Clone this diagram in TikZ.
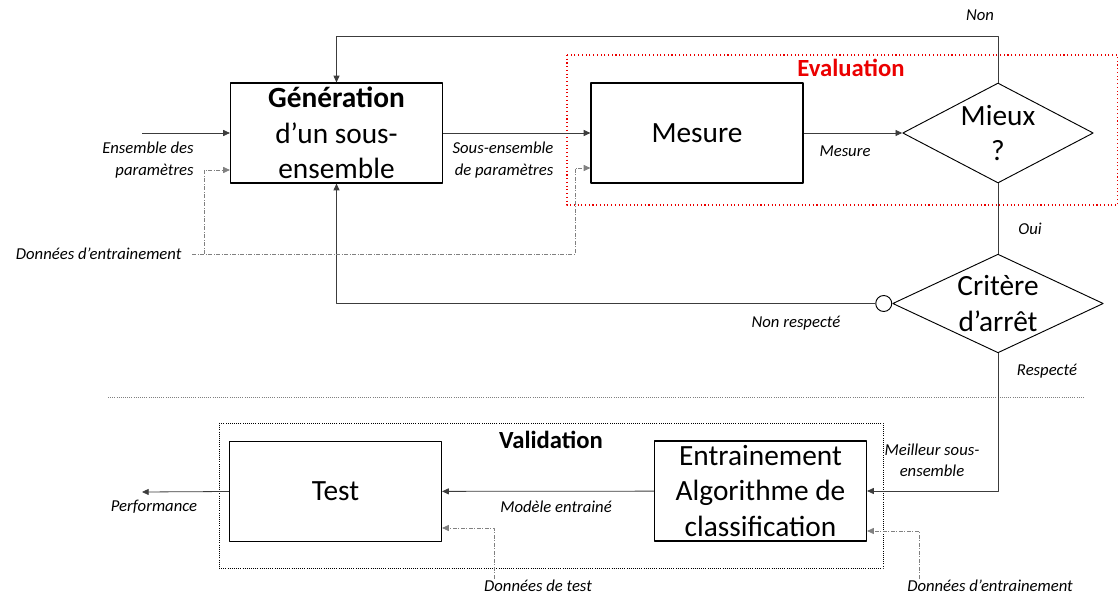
\documentclass[tikz,border=0pt]{standalone}
\usepackage{fontspec}
\setmainfont{Carlito}
\usetikzlibrary{shapes.geometric,arrows.meta,positioning}
\definecolor{lnk}{RGB}{60,60,60}
\definecolor{evalred}{RGB}{235,0,0}
\tikzset{
  bloc/.style={draw,line width=0.9pt,minimum width=159pt,minimum height=75pt,inner sep=0pt,align=center,font=\fontsize{22}{26.5}\selectfont},
  choix/.style={draw,line width=0.7pt,diamond,inner sep=0pt,align=center,font=\fontsize{22}{26.5}\selectfont},
  lbl/.style={font=\fontsize{12.5}{16}\selectfont\itshape,inner sep=1pt},
  lien/.style={lnk,line width=0.6pt},
  dd/.style={gray,line width=0.6pt,dash pattern=on 3pt off 1.2pt on 0.6pt off 1.2pt},
}
\begin{document}
\begin{tikzpicture}[x=0.75pt,y=-0.75pt,>={Triangle[length=5pt,width=4.5pt]},line join=round]
\useasboundingbox (0,0) rectangle (1118,599);
\node[bloc] (gen) at (336.5,133) {\textbf{Génération}\\d’un sous-\\ensemble};
\node[bloc] (mes) at (697,133) {Mesure};
\node[choix,aspect=1.9,minimum width=143pt,minimum height=75pt] (mieux) at (998,133) {Mieux\\?};
\node[choix,aspect=2.13,minimum width=158pt,minimum height=74pt] (crit) at (998,303.5) {Critère\\d’arrêt};
\node[circle,draw,line width=0.7pt,minimum size=12pt,inner sep=0pt,left=0pt of crit.west] (nr) {};
\node[bloc] (test) at (335.5,491.5) {Test};
\node[bloc] (ent) at (760.5,491) {Entrainement\\Algorithme de\\classification};

\draw[evalred,dotted,line width=0.8pt] (567,55) rectangle (1117.5,205);
\node[font=\fontsize{18.5}{20}\selectfont\bfseries,text=evalred] (teval) at (851,68) {Evaluation};
\draw[black,densely dotted,line width=0.6pt] (219,423) rectangle (883,568);
\node[font=\fontsize{18.5}{20}\selectfont\bfseries] (tval) at (551,440) {Validation};
\draw[gray,densely dotted,line width=0.6pt] (108,397) -- (1083,397);

\node[lbl] (lnon) at (980,15) {Non};
\node[lbl,align=right] (lens) at (148,160) {Ensemble des\\paramètres};
\node[lbl,align=right] (lsous) at (503,160) {Sous-ensemble\\de paramètres};
\node[lbl] (lmes) at (845,151) {Mesure};
\node[lbl,anchor=east] (ldtr) at (183,254) {Données d’entrainement};
\node[lbl] (loui) at (1030,229) {Oui};
\node[lbl] (lnr) at (796,323) {Non respecté};
\node[lbl] (lresp) at (1047,371) {Respecté};
\node[lbl,align=center] (lmeil) at (932,460) {Meilleur sous-\\ensemble};
\node[lbl] (lmod) at (556,507) {Modèle entrainé};
\node[lbl] (lperf) at (154,507) {Performance};
\node[lbl] (ldte) at (538,586) {Données de test};
\node[lbl] (ldtr2) at (990,586) {Données d’entrainement};

\coordinate (ens) at (142,133);
\coordinate (haut) at (998,36);
\coordinate (perf) at (142,492);
\coordinate (dg) at (204,170);
\coordinate (dm) at (575,168);
\coordinate (dt) at (494,528);
\coordinate (de) at (919,531);

\draw[lien,->] (ens) -- (gen.west);
\draw[lien,->] (gen) -- (mes);
\draw[lien,->] (mes) -- (mieux);
\draw[lien,->] (mieux.north) -- (haut) -| (gen.north);
\draw[lien] (mieux.south) -- (crit.north);
\draw[lien,->] (nr.west) -| (gen.south);
\draw[lien,->] (crit.south) |- (ent.east);
\draw[lien,->] (ent) -- (test);
\draw[lien,->] (test.west) -- (perf);

\draw[dd,->] ([xshift=7pt]ldtr.east) -| (dm) -- (dm -| mes.west);
\draw[dd,->] (ldtr.east -| dg) -- (dg) -- (dg -| gen.west);
\draw[dd,->] (ldte.north -| dt) -- (dt) -- (dt -| test.east);
\draw[dd,->] (ldtr2.north -| de) -- (de) -- (de -| ent.east);
\end{tikzpicture}
\end{document}
